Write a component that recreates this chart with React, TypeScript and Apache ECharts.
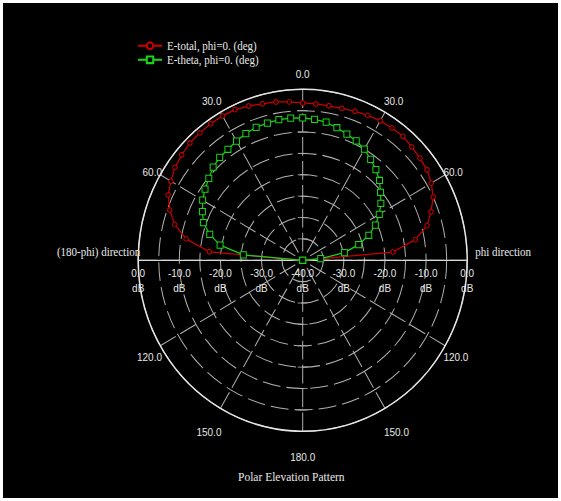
import React, { useEffect, useRef } from "react";
import * as echarts from "echarts";

// Elevation angle (deg from zenith); negative = (180-phi) side
const angles = [
  -90, -85, -80, -75, -70, -65, -60, -55, -50, -45, -40, -35, -30, -25, -20, -15, -10, -5,
  0, 5, 10, 15, 20, 25, 30, 35, 40, 45, 50, 55, 60, 65, 70, 75, 80, 85, 90,
];

// E-total, phi = 0 deg (dB)
const eTotal = [
  -40, -17.2, -11.2, -7.8, -5.6, -3.9, -3.0, -2.1, -1.6, -1.2, -1.1, -1.0, -1.0, -1.1, -1.6, -2.1, -2.4, -2.8,
  -3.2, -3.3, -3.3, -3.2, -2.9, -2.6, -2.3, -2.2, -2.1, -2.5, -2.8, -3.1, -3.9, -5.0, -6.8, -8.7, -12.2, -18.0, -40,
];

// E-theta, phi = 0 deg (dB)
const eTheta = [
  -40, -25.5, -19.6, -16.6, -14.3, -13.1, -11.9, -11.0, -10.2, -9.2, -8.6, -8.3, -7.8, -7.3, -6.9, -6.8, -6.6, -6.6,
  -6.7, -6.9, -7.2, -7.9, -8.6, -9.2, -10.0, -11.2, -12.3, -13.6, -15.3, -16.8, -18.5, -20.5, -22.9, -25.9, -29.7, -35.6, -40,
];

// dB rings that get a cross tick on the vertical (0 / 180 deg) axis
const crossRings = [-35, -30, -25, -20, -15, -10, -5];
const crossAngles = [0, 180];

const seriesNames = ["E-total, phi=0. (deg)", "E-theta, phi=0. (deg)"];
const directionLabels = { right: "phi direction", left: "(180-phi) direction" };
const titleText = "Polar Elevation Pattern";

// drawing area is rendered slightly compressed and stretched back vertically
const W = 561;
const H = 482;
const SY = 501 / H;
const CX = 302.7;
const CY = 250.4;
const R = 164.5;

const TEXT = "#e8e8e8";
const GRIDC = "#b0b0b0";

const toPolar = (vals: number[]) => vals.map((v, i) => [v, (angles[i] + 360) % 360]);

export default function App() {
  const ref = useRef<HTMLDivElement>(null);

  useEffect(() => {
    if (!ref.current) return;
    const chart = echarts.init(ref.current, undefined, { renderer: "svg" });

    const numFont = { fontFamily: "Liberation Sans", fontSize: 10, color: TEXT };
    const dirFont = { fontFamily: "Liberation Serif", fontSize: 11, color: TEXT };

    const crossData: number[][] = [];
    crossAngles.forEach((a) => crossRings.forEach((r) => crossData.push([r, a])));

    chart.setOption({
      animation: false,
      backgroundColor: "transparent",
      title: {
        text: titleText,
        left: 238,
        top: 453,
        padding: 0,
        textStyle: { color: TEXT, fontFamily: "Liberation Serif", fontSize: 11.5, fontWeight: "normal" },
      },
      legend: {
        orient: "vertical",
        left: 137,
        top: 38,
        padding: 0,
        itemWidth: 24,
        itemHeight: 8,
        itemGap: 1.5,
        data: seriesNames,
        textStyle: { color: TEXT, fontFamily: "Liberation Serif", fontSize: 11, lineHeight: 12 },
      },
      polar: [
        { center: [CX, CY], radius: R },
        { center: [CX, CY], radius: R },
      ],
      angleAxis: [
        {
          polarIndex: 0,
          type: "value",
          min: 0,
          max: 360,
          interval: 30,
          startAngle: 90,
          clockwise: true,
          axisLine: { show: true, lineStyle: { color: "#e6e6e6", width: 1.5 } },
          axisTick: { show: false },
          splitLine: { show: true, lineStyle: { color: GRIDC, width: 1, type: [18, 5] } },
          axisLabel: {
            margin: -2,
            ...numFont,
            formatter: (v: number) => {
              const d = v > 180 ? 360 - v : v;
              if (d === 90) return "";
              return `{a${d}|${d.toFixed(1)}}`;
            },
            rich: {
              a0: { ...numFont, lineHeight: 33.5 },
              a30: { ...numFont, lineHeight: 25 },
              a60: { ...numFont, lineHeight: 7.4 },
              a120: { ...numFont, lineHeight: 23.6 },
              a150: { ...numFont, lineHeight: 48.9 },
              a180: { ...numFont, lineHeight: 53.5 },
            },
          },
        },
        {
          polarIndex: 1,
          type: "value",
          min: 0,
          max: 360,
          interval: 90,
          startAngle: 90,
          clockwise: true,
          axisLine: { show: false },
          axisTick: { show: false },
          splitLine: { show: false },
          axisLabel: {
            margin: -2,
            ...dirFont,
            formatter: (v: number) =>
              v === 90
                ? `{r|${directionLabels.right}}`
                : v === 270
                  ? `{l|${directionLabels.left}}`
                  : "",
            rich: {
              r: { ...dirFont, padding: [0, 0, 16, 10] },
              l: { ...dirFont, padding: [0, 0, 16, 0] },
            },
          },
        },
      ],
      radiusAxis: [
        {
          polarIndex: 0,
          type: "value",
          min: -40,
          max: 0,
          interval: 5,
          axisLine: { show: false },
          axisTick: { show: false },
          axisLabel: { show: false },
          splitLine: { show: true, lineStyle: { color: GRIDC, width: 1, type: [18, 6] } },
        },
        {
          polarIndex: 1,
          type: "value",
          min: -40,
          max: 0,
          axisLine: { show: false },
          axisTick: { show: false },
          axisLabel: { show: false },
          splitLine: { show: false },
        },
      ],
      grid: [
        { left: CX - R, width: 2 * R, top: CY - 100, height: 100, containLabel: false, outerBoundsMode: "none" },
      ],
      xAxis: [
        {
          gridIndex: 0,
          type: "value",
          min: -40,
          max: 40,
          interval: 10,
          position: "bottom",
          axisLine: { show: true, lineStyle: { color: "#d8d8d8", width: 1.2 } },
          axisTick: { show: false },
          splitLine: { show: false },
          axisLabel: {
            margin: 6,
            ...numFont,
            lineHeight: 14,
            showMinLabel: true,
            showMaxLabel: true,
            formatter: (v: number) => `${(Math.abs(v) - 40).toFixed(1)}\ndB`,
          },
        },
      ],
      yAxis: [{ gridIndex: 0, type: "value", min: 0, max: 1, show: false }],
      series: [
        {
          // short cross bars on the vertical axis at each ring
          type: "scatter",
          coordinateSystem: "polar",
          polarIndex: 0,
          silent: true,
          data: crossData,
          symbol: "rect",
          symbolSize: [10, 1],
          itemStyle: { color: GRIDC },
          z: 1,
        },
        {
          type: "line",
          name: seriesNames[0],
          coordinateSystem: "polar",
          polarIndex: 0,
          data: toPolar(eTotal),
          symbol: "circle",
          symbolSize: 4.5,
          lineStyle: { color: "#cc0000", width: 1.2 },
          itemStyle: { color: "#000", borderColor: "#cc0000", borderWidth: 1 },
          z: 3,
        },
        {
          type: "line",
          name: seriesNames[1],
          coordinateSystem: "polar",
          polarIndex: 0,
          data: toPolar(eTheta),
          symbol: "rect",
          symbolSize: 6,
          lineStyle: { color: "#19d419", width: 1.2 },
          itemStyle: { color: "#000", borderColor: "#19d419", borderWidth: 1 },
          z: 4,
        },
      ],
    });

    return () => chart.dispose();
  }, []);

  return (
    <div
      style={{
        position: "fixed",
        left: 0,
        top: 0,
        width: W,
        height: 501,
        background: "#fff",
        overflow: "hidden",
      }}
    >
      <div style={{ position: "absolute", left: 3, top: 3, width: 555, height: 495, background: "#000" }} />
      <div
        ref={ref}
        style={{
          position: "absolute",
          left: 0,
          top: 0,
          width: W,
          height: H,
          transform: `scaleY(${SY})`,
          transformOrigin: "0 0",
        }}
      />
    </div>
  );
}
